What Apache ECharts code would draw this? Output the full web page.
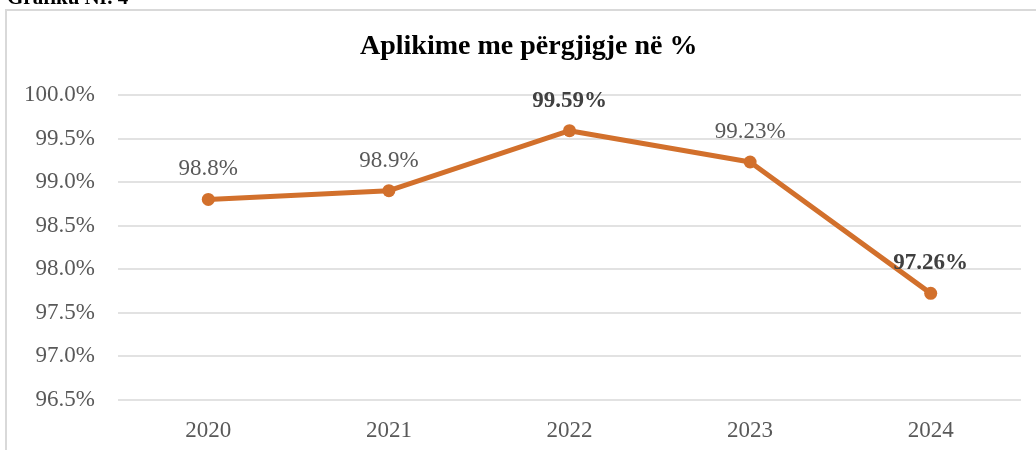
<!DOCTYPE html>
<html>
<head>
<meta charset="utf-8">
<script src="https://cdn.jsdelivr.net/npm/echarts@6/dist/echarts.min.js"></script>
<style>html,body{margin:0;padding:0;background:#fff}#c{width:1036px;height:450px}</style>
</head>
<body>
<div id="c"></div>
<script>
var categories = ['2020', '2021', '2022', '2023', '2024'];
var values = [98.8, 98.9, 99.59, 99.23, 97.72];
var labelTexts = ['98.8%', '98.9%', '99.59%', '99.23%', '97.26%'];
var boldLabels = [false, false, true, false, true];
var yTicks = { min: 96.5, max: 100, interval: 0.5 };

var serif = '"Liberation Serif", "Times New Roman", serif';
var chart = echarts.init(document.getElementById('c'));
var data = values.map(function (v, i) {
  return {
    value: v,
    label: { formatter: labelTexts[i], fontWeight: boldLabels[i] ? 'bold' : 'normal',
             color: boldLabels[i] ? '#404040' : '#595959' }
  };
});
chart.setOption({
  backgroundColor: '#fff',
  animation: false,
  title: {
    text: 'Aplikime me përgjigje në %',
    left: 355, top: 28,
    textStyle: { fontFamily: serif, fontSize: 28, fontWeight: 'bold', color: '#000' }
  },
  graphic: [
    { type: 'rect', shape: { x: 6, y: 10, width: 1060, height: 460 },
      style: { fill: 'none', stroke: '#d9d9d9', lineWidth: 2 } },
    { type: 'text', left: 7, top: -12,
      style: { text: 'Grafiku Nr. 4', font: 'bold 21px ' + serif, fill: '#000' } }
  ],
  grid: { left: 118, right: 15, top: 95, bottom: 50.5 },
  xAxis: {
    type: 'category', data: categories, boundaryGap: true,
    axisLine: { show: false }, axisTick: { show: false },
    axisLabel: { fontFamily: serif, fontSize: 23, color: '#595959', margin: 20 }
  },
  yAxis: {
    type: 'value', min: yTicks.min, max: yTicks.max, interval: yTicks.interval,
    axisLine: { show: false }, axisTick: { show: false },
    splitLine: { lineStyle: { color: '#d9d9d9', width: 1.5 } },
    axisLabel: { fontFamily: serif, fontSize: 23, color: '#595959', margin: 23,
      formatter: function (v) { return v.toFixed(1) + '%'; } }
  },
  series: [{
    type: 'line', data: data,
    symbol: 'circle', symbolSize: 13,
    lineStyle: { color: '#D2702C', width: 5 },
    itemStyle: { color: '#D2702C' },
    label: { show: true, position: 'top', distance: 12, fontFamily: serif, fontSize: 23 }
  }]
});
</script>
</body>
</html>
